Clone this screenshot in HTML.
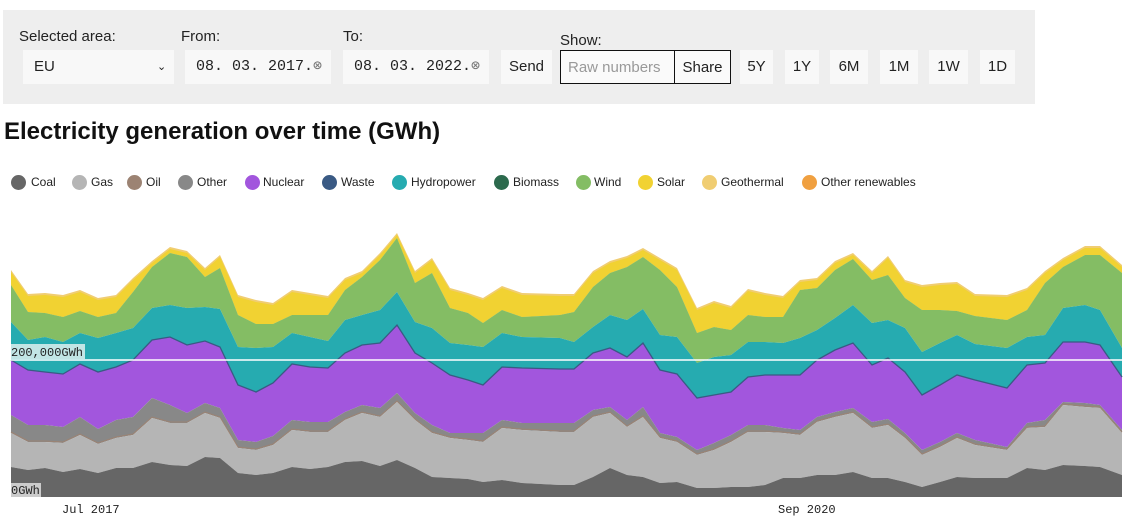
<!DOCTYPE html>
<html><head><meta charset="utf-8"><style>
body{margin:0;width:1123px;height:527px;background:#fff;position:relative;overflow:hidden;font-family:"Liberation Sans",sans-serif;color:#222}
.a{position:absolute}
.panel{left:3px;top:10px;width:1032px;height:94px;background:#eeeeee}
.lbl{font-size:15px;color:#222}
.box{background:#f8f8f8;height:34px;top:50px;font-size:15px;line-height:34px;box-sizing:border-box}
.mono{font-family:"Liberation Mono",monospace}
.btn{text-align:center}
.bord{border:1.5px solid #111;background:#fafafa}
.leg{top:175px;font-size:12px;line-height:14px}
.dot{position:absolute;width:15px;height:15px;border-radius:50%;top:175px}
</style></head><body>
<div class="a panel"></div>
<div class="a lbl" style="left:19px;top:28px">Selected area:</div>
<div class="a lbl" style="left:181px;top:28px">From:</div>
<div class="a lbl" style="left:343px;top:28px">To:</div>
<div class="a lbl" style="left:560px;top:32px">Show:</div>
<div class="a box" style="left:23px;width:151px;padding-left:11px">EU<span class="a" style="left:134px;top:0;font-size:11px">&#8964;</span></div>
<div class="a box mono" style="left:185px;width:146px;padding-left:11px">08. 03. 2017.<span style="color:#777">&#8855;</span></div>
<div class="a box mono" style="left:343px;width:146px;padding-left:11px">08. 03. 2022.<span style="color:#777">&#8855;</span></div>
<div class="a box btn" style="left:501px;width:51px">Send</div>
<div class="a box bord" style="left:560px;width:115px;padding-left:7px;color:#999">Raw numbers</div>
<div class="a box bord btn" style="left:674px;width:57px">Share</div>
<div class="a box btn" style="left:740px;width:33px">5Y</div>
<div class="a box btn" style="left:785px;width:34px">1Y</div>
<div class="a box btn" style="left:830px;width:38px">6M</div>
<div class="a box btn" style="left:880px;width:38px">1M</div>
<div class="a box btn" style="left:929px;width:39px">1W</div>
<div class="a box btn" style="left:980px;width:35px">1D</div>
<div class="a" style="left:4px;top:118px;font-size:24px;font-weight:bold;color:#111">Electricity generation over time (GWh)</div>

<div class="dot" style="left:11px;background:#666"></div><div class="a leg" style="left:31px">Coal</div>
<div class="dot" style="left:72px;background:#b5b5b5"></div><div class="a leg" style="left:91px">Gas</div>
<div class="dot" style="left:127px;background:#9c8373"></div><div class="a leg" style="left:146px">Oil</div>
<div class="dot" style="left:178px;background:#888"></div><div class="a leg" style="left:197px">Other</div>
<div class="dot" style="left:245px;background:#a256dd"></div><div class="a leg" style="left:263px">Nuclear</div>
<div class="dot" style="left:322px;background:#3a5a84"></div><div class="a leg" style="left:341px">Waste</div>
<div class="dot" style="left:392px;background:#26abb0"></div><div class="a leg" style="left:411px">Hydropower</div>
<div class="dot" style="left:494px;background:#2c6a4d"></div><div class="a leg" style="left:513px">Biomass</div>
<div class="dot" style="left:576px;background:#84bd64"></div><div class="a leg" style="left:594px">Wind</div>
<div class="dot" style="left:638px;background:#f1d232"></div><div class="a leg" style="left:657px">Solar</div>
<div class="dot" style="left:702px;background:#f0cd72"></div><div class="a leg" style="left:721px">Geothermal</div>
<div class="dot" style="left:802px;background:#f0a040"></div><div class="a leg" style="left:821px">Other renewables</div>

<svg id="s" class="a" style="left:0;top:0" width="1123" height="527"></svg>
<script>
var D=[[11,272,285,322,360,415,433,467],[28,296,312,340,370,425,442,470],[45,295,313,337,372,425,442,468],[63,297,317,342,374,427,443,472],[80,292,311,333,364,417,435,469],[98,300,317,338,372,429,444,473],[116,297,313,333,367,420,438,468],[133,280,292,328,360,417,435,468],[152,263,267,308,340,398,418,462],[170,249,253,305,337,405,423,465],[187,253,257,308,345,413,423,466],[205,270,277,307,341,403,413,457],[220,257,268,309,347,408,418,458],[238,297,315,347,385,440,448,473],[256,302,324,348,392,442,450,475],[273,305,324,347,383,436,445,473],[292,292,315,333,364,420,430,467],[310,295,315,337,367,422,432,469],[328,298,315,341,368,422,432,467],[345,280,290,320,353,412,420,462],[362,273,277,315,345,405,413,461],[380,255,260,310,343,408,417,466],[397,235,238,292,325,393,402,460],[415,273,283,322,353,413,420,468],[432,260,273,328,363,425,433,477],[450,290,308,343,375,433,438,478],[468,295,313,345,380,433,440,479],[483,300,323,347,385,433,442,482],[502,288,310,333,367,420,428,480],[522,295,317,337,368,423,430,483],[560,296,315,338,369,423,432,485],[574,296,312,342,369,423,432,485],[593,273,287,327,353,410,417,477],[610,263,273,315,348,407,413,468],[627,258,267,320,357,420,427,475],[643,250,257,309,343,407,417,477],[660,260,270,335,370,433,438,483],[677,270,287,337,374,437,442,482],[697,310,333,363,398,450,455,488],[714,303,327,357,395,443,450,488],[731,308,330,355,392,435,442,487],[748,291,315,342,377,425,432,487],[765,295,317,342,375,425,432,485],[783,298,317,343,375,428,433,478],[800,282,290,338,375,430,435,478],[817,280,288,330,360,417,422,475],[835,263,270,318,350,412,417,475],[853,255,259,305,343,408,413,472],[872,273,280,323,365,422,428,478],[888,258,275,320,358,419,425,478],[905,282,298,328,372,433,438,482],[922,287,310,352,395,450,455,487],[940,285,310,343,385,442,447,482],[957,284,311,335,375,433,438,477],[975,296,316,344,380,440,445,478],[1007,297,320,348,388,447,450,478],[1027,290,310,337,365,423,428,468],[1045,273,283,335,363,420,427,470],[1063,260,267,308,342,402,405,465],[1085,248,255,305,342,403,407,466],[1100,248,255,310,345,405,408,467],[1122,267,273,348,377,430,433,475]];
var B=497,s=document.getElementById('s'),h='';
function line(i,off){return D.map(function(r){return r[0]+','+(r[i]+(off||0))});}
function band(top,bot,c,tOff,bOff){var t=line(top,tOff||0),b=bot?line(bot,bOff||0).reverse():['1122,'+B,'11,'+B];h+='<polygon fill="'+c+'" points="'+t.join(' ')+' '+b.join(' ')+'"/>';}
band(1,2,'#f0cd72',-2,0);
band(1,2,'#f1d232',0,0);
band(2,3,'#84bd64');
band(3,4,'#26abb0');
band(4,5,'#a256dd');
band(5,6,'#888');
band(6,7,'#b5b5b5');
band(7,0,'#666');
h+='<polyline fill="none" stroke="#3a5a84" stroke-width="1.3" points="'+line(4).join(' ')+'"/>';
h+='<polyline fill="none" stroke="#9c8373" stroke-width="1" points="'+line(6,-1).join(' ')+'"/>';
h+='<line x1="11" y1="360" x2="1123" y2="360" stroke="#fff" stroke-width="1.5"/>';
h+='<rect x="11" y="344" width="74" height="15" fill="#ddeeee" opacity="0.85"/><text x="11" y="356" font-family="Liberation Mono,monospace" font-size="12" fill="#222">200,000GWh</text>';
h+='<rect x="11" y="483" width="30" height="14" fill="#ddd" opacity="0.85"/><text x="11" y="494" font-family="Liberation Mono,monospace" font-size="12" fill="#222">0GWh</text>';
h+='<text x="62" y="513" font-family="Liberation Mono,monospace" font-size="12" fill="#222">Jul 2017</text>';
h+='<text x="778" y="513" font-family="Liberation Mono,monospace" font-size="12" fill="#222">Sep 2020</text>';
s.innerHTML=h;
</script>
</body></html>
